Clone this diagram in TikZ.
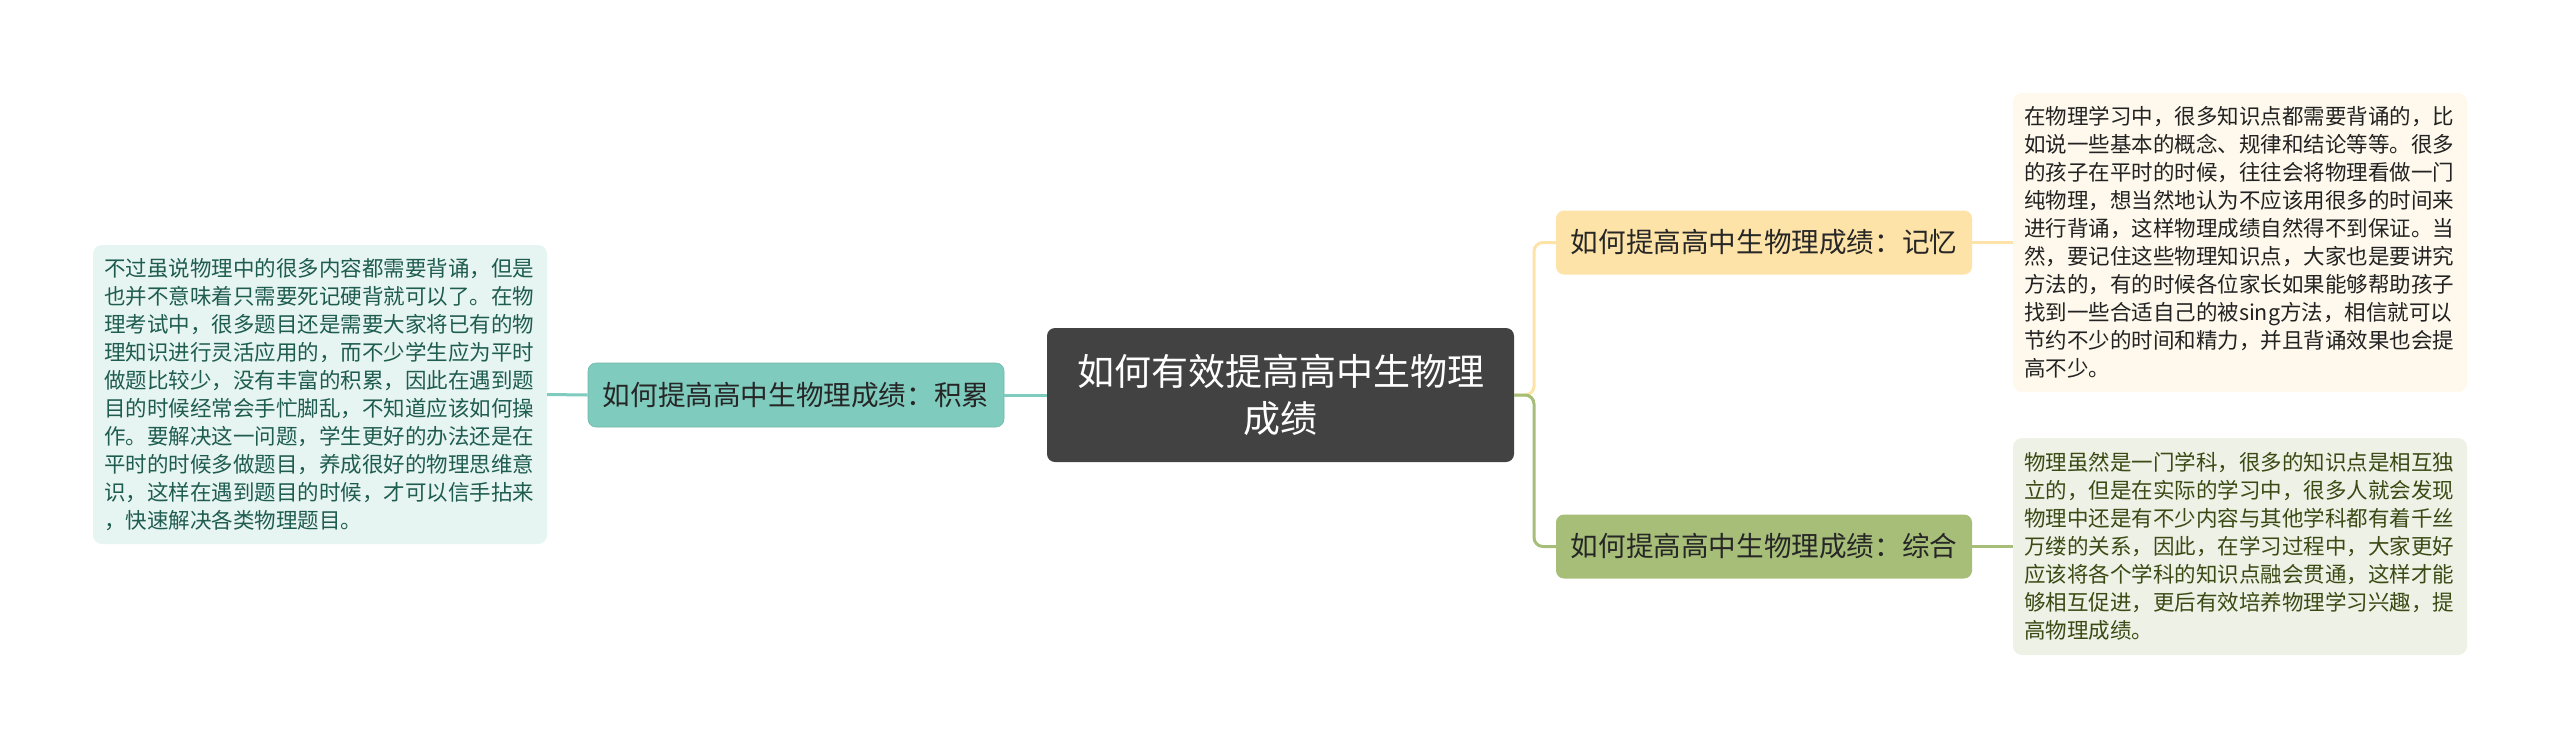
\documentclass[tikz,border=0pt]{standalone}
\usepackage{fontspec}
\setmainfont{Noto Sans CJK SC}
\definecolor{rootfill}{HTML}{424242}
\definecolor{tealc}{HTML}{7FCBBD}
\definecolor{tealleaf}{HTML}{E7F5F2}
\definecolor{tealtext}{HTML}{1F5C50}
\definecolor{yelc}{HTML}{FDE3A7}
\definecolor{yelleaf}{HTML}{FEF9EC}
\definecolor{yeltext}{HTML}{222222}
\definecolor{grnc}{HTML}{A6BE78}
\definecolor{grnleaf}{HTML}{EEF1E6}
\definecolor{grntext}{HTML}{3B4A14}
\tikzset{
  rootbox/.style={fill=rootfill, rounded corners=8pt, text=white, align=center,
    minimum width=467pt, minimum height=134pt, inner sep=0pt,
    font=\fontsize{37}{47}\selectfont},
  branchbox/.style={rounded corners=8pt, text=black!85, align=center,
    minimum width=416pt, minimum height=64pt, inner sep=0pt,
    font=\fontsize{27.6}{33}\selectfont},
  leafbox/.style={rounded corners=9pt, align=left, text width=432pt,
    inner xsep=11pt, inner ysep=0pt,
    font=\fontsize{21.5}{28}\selectfont},
  conn/.style={line width=3pt, rounded corners=9pt},
}
\begin{document}
\begin{tikzpicture}[x=1pt,y=-1pt]
\useasboundingbox (0,0) rectangle (2560,748);
% root
\node[rootbox] (root) at (1280.5,395) {如何有效提高高中生物理\\成绩};
% branches
\node[branchbox, fill=tealc, draw=tealc!90!black, line width=0.6pt] (jilei) at (796,395) {如何提高高中生物理成绩：积累};
\node[branchbox, fill=yelc] (jiyi) at (1764,242.5) {如何提高高中生物理成绩：记忆};
\node[branchbox, fill=grnc] (zonghe) at (1764,546.5) {如何提高高中生物理成绩：综合};
% leaves
\node[leafbox, fill=tealleaf, text=tealtext, minimum height=299pt] (leafl) at (320,394.5) {不过虽说物理中的很多内容都需要背诵，但是\\
也并不意味着只需要死记硬背就可以了。在物\\
理考试中，很多题目还是需要大家将已有的物\\
理知识进行灵活应用的，而不少学生应为平时\\
做题比较少，没有丰富的积累，因此在遇到题\\
目的时候经常会手忙脚乱，不知道应该如何操\\
作。要解决这一问题，学生更好的办法还是在\\
平时的时候多做题目，养成很好的物理思维意\\
识，这样在遇到题目的时候，才可以信手拈来\\
，快速解决各类物理题目。};
\node[leafbox, fill=yelleaf, text=yeltext, minimum height=299pt] (leafr1) at (2240,242.5) {在物理学习中，很多知识点都需要背诵的，比\\
如说一些基本的概念、规律和结论等等。很多\\
的孩子在平时的时候，往往会将物理看做一门\\
纯物理，想当然地认为不应该用很多的时间来\\
进行背诵，这样物理成绩自然得不到保证。当\\
然，要记住这些物理知识点，大家也是要讲究\\
方法的，有的时候各位家长如果能够帮助孩子\\
找到一些合适自己的被sing方法，相信就可以\\
节约不少的时间和精力，并且背诵效果也会提\\
高不少。};
\node[leafbox, fill=grnleaf, text=grntext, minimum height=217pt] (leafr2) at (2240,546.5) {物理虽然是一门学科，很多的知识点是相互独\\
立的，但是在实际的学习中，很多人就会发现\\
物理中还是有不少内容与其他学科都有着千丝\\
万缕的关系，因此，在学习过程中，大家更好\\
应该将各个学科的知识点融会贯通，这样才能\\
够相互促进，更后有效培养物理学习兴趣，提\\
高物理成绩。};
% connectors
\coordinate (junc) at (1534,395);
\begin{scope}[on background layer/.try]
\end{scope}
\draw[conn, tealc] (root.west) -- (jilei.east);
\draw[conn, tealc] (jilei.west) -- (leafl.east);
\draw[conn, yelc] (root.east) -- (junc) |- (jiyi.west);
\draw[conn, grnc] (root.east) -- (junc) |- (zonghe.west);
\draw[conn, yelc] (jiyi.east) -- (leafr1.west);
\draw[conn, grnc] (zonghe.east) -- (leafr2.west);
\end{tikzpicture}
\end{document}
